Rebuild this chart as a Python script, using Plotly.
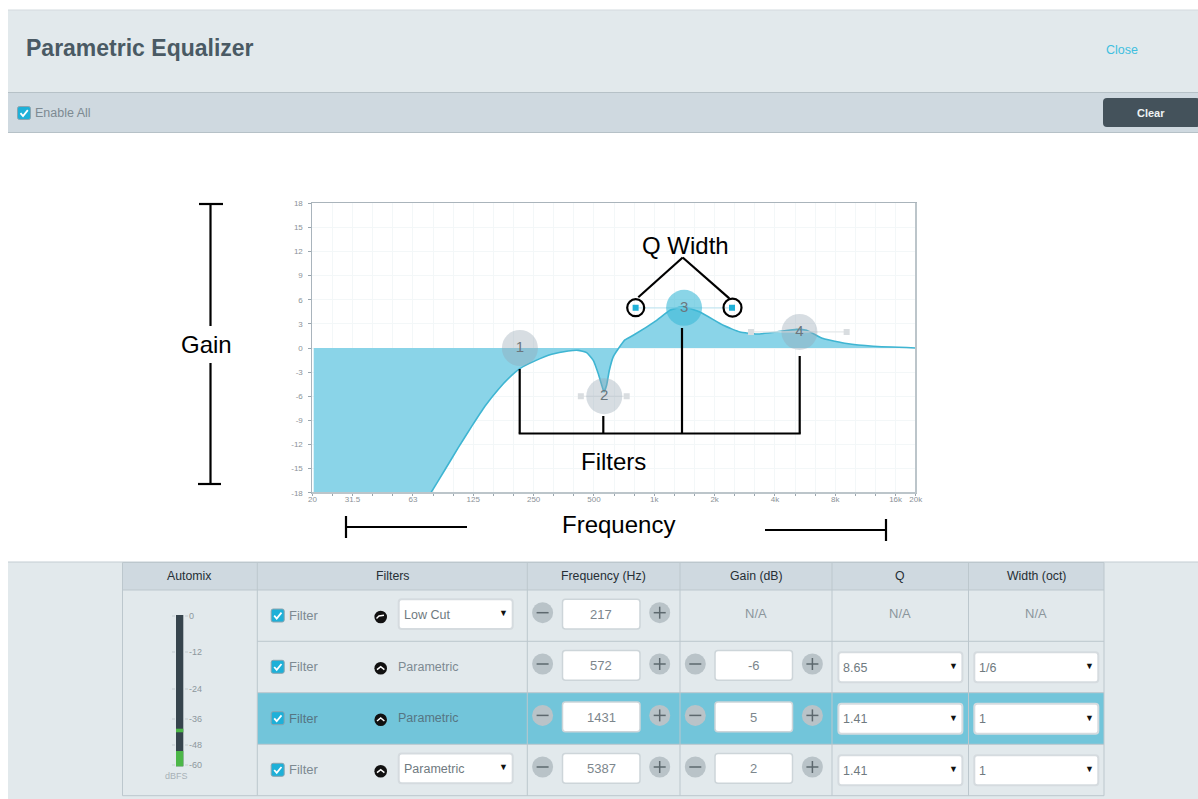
import plotly.graph_objects as go

W, H = 1198, 799

# ---- response curve ----
curve_freq = [20.3, 30, 40, 55, 78.1, 91.7, 106.9, 124.7, 145.2, 169.2, 197.4, 217, 258, 312.6, 378, 424, 467,
              504, 534, 555, 570, 588, 606, 634, 672, 725, 798, 1044, 1216, 1417, 1717, 2244, 2719, 3293,
              4144, 5214, 5850, 7076, 9264, 12572, 20400]
curve_gain = [-41, -34.5, -29.5, -24, -18.0, -15.15, -12.4, -9.75, -7.25, -5.15, -3.4, -2.56, -1.6, -0.78, -0.37, -0.29, -0.57,
              -1.53, -3.2, -4.6, -5.47, -4.6, -2.8, -1.1, -0.1, 1.0, 1.58, 3.44, 4.69, 5.15, 4.48, 2.82, 1.99, 1.74,
              1.99, 2.33, 2.2, 1.17, 0.55, 0.21, 0.0]

# ---- filters ----
filter_ids = ["1", "2", "3", "4"]
filter_freq = [217, 572, 1431, 5387]
filter_gain = [0, -6, 5, 2]
handle_low = [None, 437, 820, 3086]
handle_high = [None, 740, 2482, 9264]

# ---- axes ----
x_ticks = [20, 25.2, 31.7, 40, 50.4, 63.5, 80, 100.8, 127, 160, 201.6, 254, 320, 403, 508, 640, 806, 1016,
           1280, 1613, 2032, 2560, 3225, 4064, 5120, 6451, 8127, 10240, 12902, 16255, 20480]
x_labels = ["20", "", "31.5", "", "", "63", "", "", "125", "", "", "250", "", "", "500", "", "", "1k",
            "", "", "2k", "", "", "4k", "", "", "8k", "", "", "16k", "20k"]
y_ticks = [18, 15, 12, 9, 6, 3, 0, -3, -6, -9, -12, -15, -18]

# ---- table ----
columns = ["Automix", "Filters", "Frequency (Hz)", "Gain (dB)", "Q", "Width (oct)"]
col_edges = [122.5, 257.3, 527.3, 680, 832, 968.5, 1104]
row_edges = [590, 641.3, 692.7, 744.3, 795.7]
row_kind = ["Low Cut", "Parametric", "Parametric", "Parametric"]
row_select = [True, False, False, True]
row_freq = ["217", "572", "1431", "5387"]
row_gain = ["N/A", "-6", "5", "2"]
row_q = ["N/A", "8.65", "1.41", "1.41"]
row_width = ["N/A", "1/6", "1", "1"]

# ---- meter ----
meter_labels = ["0", "-12", "-24", "-36", "-48", "-60"]
meter_label_y = [616, 652, 689, 719, 745, 765]

PANEL = "#e2e9ec"
BAR = "#cfd9e0"
EDGE = "#bcc7cd"
HILITE = "#72c5da"
BLUE = "#1eb0d8"
TEXT = "#7d8a92"
FONT = "Liberation Sans"

px = lambda x: x / W
py = lambda y: 1 - y / H
shapes, notes = [], []


def rect(x0, y0, x1, y1, fill, line=None, lw=1, layer="below"):
    shapes.append(dict(type="rect", xref="paper", yref="paper", x0=px(x0), x1=px(x1), y0=py(y0), y1=py(y1),
                       fillcolor=fill, line=dict(color=line or "rgba(0,0,0,0)", width=lw if line else 0), layer=layer))


def line(x0, y0, x1, y1, color="#000000", lw=2.2, layer="above"):
    shapes.append(dict(type="line", xref="paper", yref="paper", x0=px(x0), x1=px(x1), y0=py(y0), y1=py(y1),
                       line=dict(color=color, width=lw), layer=layer))


def circle(cx, cy, r, fill="rgba(0,0,0,0)", edge=None, lw=1, layer="above"):
    shapes.append(dict(type="circle", xref="paper", yref="paper", x0=px(cx - r), x1=px(cx + r), y0=py(cy + r), y1=py(cy - r),
                       fillcolor=fill, line=dict(color=edge or "rgba(0,0,0,0)", width=lw if edge else 0), layer=layer))


def path(points, color="#ffffff", lw=1.6, layer="above"):
    d = "M " + " L ".join(f"{px(a):.5f} {py(b):.5f}" for a, b in points)
    shapes.append(dict(type="path", xref="paper", yref="paper", path=d, line=dict(color=color, width=lw), layer=layer))


def rounded(x0, y0, x1, y1, r, fill, edge=None, lw=1, layer="above"):
    d = (f"M {px(x0 + r)} {py(y0)} L {px(x1 - r)} {py(y0)} Q {px(x1)} {py(y0)} {px(x1)} {py(y0 + r)} "
         f"L {px(x1)} {py(y1 - r)} Q {px(x1)} {py(y1)} {px(x1 - r)} {py(y1)} L {px(x0 + r)} {py(y1)} "
         f"Q {px(x0)} {py(y1)} {px(x0)} {py(y1 - r)} L {px(x0)} {py(y0 + r)} Q {px(x0)} {py(y0)} {px(x0 + r)} {py(y0)} Z")
    shapes.append(dict(type="path", xref="paper", yref="paper", path=d, fillcolor=fill,
                       line=dict(color=edge or "rgba(0,0,0,0)", width=lw if edge else 0), layer=layer))


def label(x, y, text, size=13, color=TEXT, anchor="center", bold=False):
    notes.append(dict(xref="paper", yref="paper", x=px(x), y=py(y), text=f"<b>{text}</b>" if bold else text,
                      showarrow=False, xanchor=anchor, yanchor="middle", borderpad=0, borderwidth=0,
                      font=dict(family=FONT, size=size, color=color)))


def checkbox(cx, cy):
    rounded(cx - 6.5, cy - 6.5, cx + 6.5, cy + 6.5, 2, BLUE, "#8aa4b0", 1)
    path([(cx - 3.5, cy + 0.2), (cx - 1, cy + 3), (cx + 3.8, cy - 2.8)], "#ffffff", 1.8)


def spinner(cx, cy, plus):
    circle(cx, cy, 10.5, "#b9c3c8")
    line(cx - 6, cy, cx + 6, cy, "#5d686e", 1.5)
    if plus:
        line(cx, cy - 6, cx, cy + 6, "#5d686e", 1.5)


def select(x0, y0, x1, y1, text):
    rounded(x0, y0, x1, y1, 3, "#ffffff", "#d5dbdf", 2)
    label(x0 + 5, (y0 + y1) / 2 + 0.5, text, 12.5, "#6f7a80", "left")
    label(x1 - 9, (y0 + y1) / 2 - 1, "▼", 9, "#111111")


# ---- page chrome ----
rect(8, 10, W, 92, PANEL)
line(8, 10, W, 10, "#d3dade", 1, "below")
rect(8, 93, W, 132, BAR)
line(8, 92.5, W, 92.5, "#b6c1c7", 1, "below")
line(8, 132.5, W, 132.5, "#b6c1c7", 1, "below")
rect(8, 562, W, H, PANEL)
line(8, 562, W, 562, "#c3cdd2", 1, "below")
label(26, 48, "Parametric Equalizer", 23, "#4a5a64", "left", True)
label(1122, 50.5, "Close", 12.5, "#3fbfdf")
checkbox(24, 113)
label(35, 113, "Enable All", 12.5, TEXT, "left")
rounded(1103, 98, 1200, 127, 4, "#44525b", layer="below")
label(1151, 112.5, "Clear", 11, "#eef2f4", "center", True)

# ---- table ----
rect(col_edges[0], 562.5, col_edges[-1], 590, BAR)
rect(col_edges[1], row_edges[2], col_edges[-1], row_edges[3], HILITE)
for xe in col_edges:
    line(xe, 562.5, xe, 795.7, EDGE, 1, "below")
line(col_edges[0], 562.5, col_edges[-1], 562.5, EDGE, 1, "below")
line(col_edges[0], 590, col_edges[-1], 590, EDGE, 1, "below")
for ye in row_edges[1:]:
    line(col_edges[1], ye, col_edges[-1], ye, EDGE, 1, "below")
line(col_edges[0], 795.7, col_edges[1], 795.7, EDGE, 1, "below")
for i, name in enumerate(columns):
    label((col_edges[i] + col_edges[i + 1]) / 2, 576, name, 12.3, "#262f35")

for i in range(4):
    top = row_edges[i]
    mid = top + 25.5
    row_text = "#567583" if i == 2 else TEXT
    checkbox(277.7, mid)
    label(289, mid, "Filter", 13, row_text, "left")
    circle(380.7, mid + 1.5, 6.3, "#111111")
    if i == 0:
        path([(376.5, mid + 3), (379, mid + 0.5), (384, mid - 0.2)], "#ffffff", 1.4)
    else:
        path([(377, mid + 2.8), (380.7, mid - 0.2), (384.4, mid + 2.8)], "#ffffff", 1.5)
    if row_select[i]:
        select(398.7, top + 9.3, 512.7, top + 39, row_kind[i])
    else:
        label(398, mid, row_kind[i], 12.5, row_text, "left")

    spinner(542.6, top + 22.7, False)
    spinner(659.7, top + 22.7, True)
    rounded(562.5, top + 9.3, 640, top + 39, 3, "#ffffff", "#cdd5d9", 1.5)
    label(601.3, top + 24.5, row_freq[i], 13, "#7c868c")

    if row_gain[i] == "N/A":
        label(756, top + 23.5, row_gain[i], 13, "#8b969c")
        label(900, top + 23.5, row_q[i], 13, "#8b969c")
        label(1036, top + 23.5, row_width[i], 13, "#8b969c")
    else:
        spinner(695.3, top + 22.7, False)
        spinner(812.4, top + 22.7, True)
        rounded(715, top + 9.3, 792.5, top + 39, 3, "#ffffff", "#cdd5d9", 1.5)
        label(753.7, top + 24.5, row_gain[i], 13, "#7c868c")
        select(838.4, top + 11, 962.4, top + 41, row_q[i])
        select(974.3, top + 11, 1098.3, top + 41, row_width[i])

# ---- meter ----
rect(176, 615, 183.3, 766.3, "#36444d", layer="above")
rect(176, 728.7, 183.3, 732.3, "#4cb748", layer="above")
rect(176, 751, 183.3, 766.3, "#4cb748", layer="above")
for t, y in zip(meter_labels, meter_label_y):
    line(172, y, 175, y, "#c3ccd1", 1)
    line(185, y, 188, y, "#c3ccd1", 1)
    label(189, y, t, 9, "#8d979d", "left")
label(176, 776, "dBFS", 9, "#a7b1b7")

# ---- chart frame: heavier light edge on bottom and right ----
line(312, 493, 916.5, 493, "#bcc5ca", 2, "above")
line(916, 203, 916, 493, "#bcc5ca", 2, "above")

# ---- black call-outs ----
label(206, 345, "Gain", 24, "#000000")
line(210.5, 204, 210.5, 326)
line(210.5, 363, 210.5, 484)
line(199, 204, 223, 204)
line(198, 484, 221, 484)
label(685, 246, "Q Width", 24, "#000000")
line(682.7, 257.5, 638.3, 297.3)
line(682.7, 257.5, 729.3, 298.3)
circle(635.7, 307.7, 8.5, edge="#000000", lw=2.2)
circle(732.5, 307.7, 9, edge="#000000", lw=2.2)
line(519.7, 369, 519.7, 433.5)
line(603.3, 416, 603.3, 433.5)
line(682, 328, 682, 433.5)
line(799.7, 356, 799.7, 433.5)
line(518.7, 433.5, 800.7, 433.5)
label(614, 461, "Filters", 24, "#000000")
label(618, 524, "Frequency", 24, "#000000")
line(346, 516, 346, 538)
line(346, 527, 467, 527)
line(765, 530, 886, 530)
line(886, 519, 886, 541)

# ---- chart ----
fig = go.Figure()
fig.add_trace(go.Scatter(x=curve_freq, y=curve_gain, mode="lines", fill="tozeroy", fillcolor="#8ad4e8",
                         line=dict(color="#3fb5d2", width=1.6, shape="spline", smoothing=0.4), hoverinfo="skip"))
for i in range(1, 4):
    active = i == 2
    fig.add_trace(go.Scatter(x=[handle_low[i], handle_high[i]], y=[filter_gain[i], filter_gain[i]], mode="lines+markers",
                             line=dict(color="#c4e6f0" if active else "#e4e8ea", width=1.2),
                             marker=dict(symbol="square", size=6, color=BLUE if active else "#d9dde0"),
                             hoverinfo="skip"))
for i in range(4):
    active = i == 2
    fig.add_trace(go.Scatter(x=[filter_freq[i]], y=[filter_gain[i]], mode="markers+text", text=[filter_ids[i]],
                             textposition="middle center", textfont=dict(family=FONT, size=15, color="#6b767d"),
                             marker=dict(size=36, color="rgba(60,185,215,0.6)" if active else "rgba(150,165,180,0.38)", line=dict(width=0)),
                             hoverinfo="skip"))

fig.update_layout(
    width=W, height=H, margin=dict(l=0, r=0, t=0, b=0, pad=0, autoexpand=False), paper_bgcolor="#ffffff", plot_bgcolor="#ffffff",
    showlegend=False, shapes=shapes, annotations=notes, font=dict(family=FONT),
    xaxis=dict(type="log", automargin=False, domain=[px(312.4), px(915.7)], range=[1.30103, 4.31133], tickmode="array", tickvals=x_ticks,
               ticktext=x_labels, tickangle=0, tickfont=dict(size=8, color="#8b9297"), ticks="outside", ticklen=2, tickwidth=1,
               tickcolor="#9aa6ae", gridcolor="#f3f7f8", gridwidth=1, showline=True, linecolor="#aab4bb", linewidth=1, mirror=True,
               zeroline=False, fixedrange=True, ticklabelstandoff=-3),
    yaxis=dict(automargin=False, domain=[py(492.7), py(203.3)], range=[-18, 18], tickmode="array", tickvals=y_ticks,
               ticktext=[str(v) for v in y_ticks], tickfont=dict(size=8, color="#8b9297"), ticks="outside", ticklen=3, tickwidth=1,
               tickcolor="#9aa6ae", gridcolor="#f3f7f8", gridwidth=1, showline=True, linecolor="#a9b4bc", linewidth=1, mirror=True,
               zeroline=False, fixedrange=True, ticklabelstandoff=4),
)

fig.write_html("out.html", config=dict(displayModeBar=False), div_id="eqplot",
               post_script=("document.documentElement.style.margin='0';document.documentElement.style.padding='0';"
                            "document.body.style.margin='0';document.body.style.padding='0';document.body.style.overflow='hidden';"
                            "var d=document.getElementById('eqplot');d.style.position='fixed';d.style.left='0';d.style.top='0';"))
